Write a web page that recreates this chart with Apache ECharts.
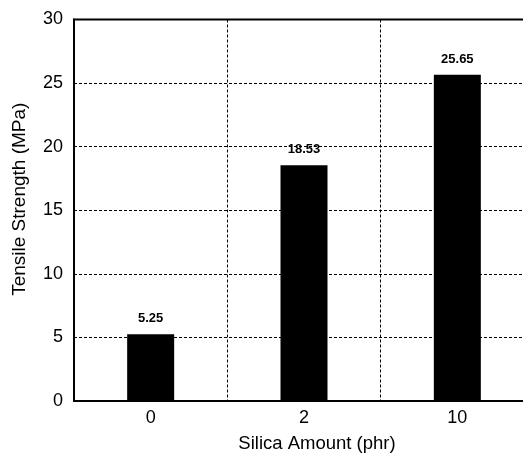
<!DOCTYPE html>
<html>
<head>
<meta charset="utf-8">
<script src="https://cdn.jsdelivr.net/npm/echarts@6/dist/echarts.min.js"></script>
<style>
    html, body { margin: 0; padding: 0; background: #fff; overflow: hidden; }
    #chart { width: 534px; height: 460px; }
</style>
</head>
<body>
<div id="chart"></div>
<script>
// silica loading (phr) and tensile strength (MPa)
const categories = ['0', '2', '10']
const strength = [5.25, 18.53, 25.65]
const yTicks = [0, 5, 10, 15, 20, 25, 30]

const font = '"Liberation Sans", Arial, sans-serif'
const chart = echarts.init(document.getElementById('chart'))

chart.setOption({
    animation: false,
    grid: {
        left: 74,
        right: 0,
        top: 19.5,
        bottom: 59,
        outerBoundsMode: 'none',
        show: true,
        borderColor: '#000',
        borderWidth: 2
    },
    xAxis: {
        type: 'category',
        data: categories,
        name: 'Silica Amount (phr)',
        nameLocation: 'middle',
        nameGap: 33,
        nameTextStyle: { fontFamily: font, fontSize: 18.5, color: '#000', padding: [0, 0, 0, 26] },
        axisLine: { lineStyle: { color: '#000', width: 2 } },
        axisTick: { show: false },
        axisLabel: { fontFamily: font, fontSize: 18, color: '#000', margin: 8 },
        splitLine: { show: true, lineStyle: { color: '#000', type: [3, 2], width: 1 } }
    },
    yAxis: {
        type: 'value',
        min: yTicks[0],
        max: yTicks[yTicks.length - 1],
        interval: 5,
        name: 'Tensile Strength (MPa)',
        nameLocation: 'middle',
        nameGap: 45,
        nameTextStyle: { fontFamily: font, fontSize: 19, color: '#000', padding: [0, 0, 0, 22] },
        axisLine: { show: true, lineStyle: { color: '#000', width: 2 } },
        axisTick: { show: false },
        axisLabel: { fontFamily: font, fontSize: 18, color: '#000', margin: 11 },
        splitLine: { show: true, lineStyle: { color: '#000', type: [3, 2], width: 1 } }
    },
    series: [{
        type: 'bar',
        data: strength,
        barWidth: 47,
        itemStyle: { color: '#000' },
        label: {
            show: true,
            position: 'top',
            distance: 9,
            fontFamily: font,
            fontSize: 13,
            fontWeight: 'bold',
            color: '#000',
            formatter: p => p.value.toFixed(2)
        }
    }]
})
</script>
</body>
</html>
